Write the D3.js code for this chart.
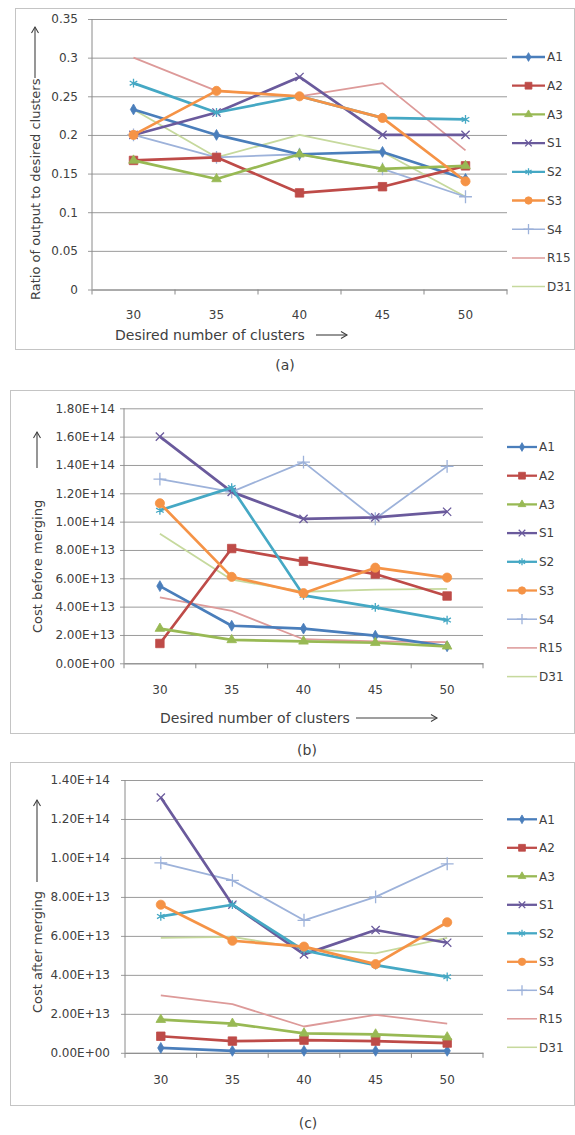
<!DOCTYPE html>
<html>
<head>
<meta charset="utf-8">
<script src="https://cdn.jsdelivr.net/npm/d3@7"></script>
<style>
  body { margin: 0; background: #fff; }
  text { font-family: "DejaVu Sans", sans-serif; fill: #404040; }
</style>
</head>
<body>
<svg width="575" height="1135"></svg>
<script>
// categories + series names
var clusters = [30, 35, 40, 45, 50];
var seriesNames = ["A1", "A2", "A3", "S1", "S2", "S3", "S4", "R15", "D31"];

// (a) ratio of output to desired clusters, one row per series
var ratioValues = [
  [0.233, 0.2, 0.175, 0.178, 0.143],
  [0.167, 0.171, 0.125, 0.133, 0.16],
  [0.167, 0.143, 0.175, 0.156, 0.16],
  [0.2, 0.229, 0.275, 0.2, 0.2],
  [0.267, 0.229, 0.25, 0.222, 0.22],
  [0.2, 0.257, 0.25, 0.222, 0.14],
  [0.2, 0.171, 0.175, 0.156, 0.12],
  [0.3, 0.257, 0.25, 0.267, 0.18],
  [0.233, 0.171, 0.2, 0.178, 0.12]
];

// (b) cost before merging
var costBefore = [
  [5.45e13, 2.65e13, 2.45e13, 1.95e13, 1.2e13],
  [1.4e13, 8.1e13, 7.2e13, 6.3e13, 4.75e13],
  [2.45e13, 1.65e13, 1.55e13, 1.45e13, 1.2e13],
  [1.6e14, 1.21e14, 1.02e14, 1.03e14, 1.07e14],
  [1.08e14, 1.24e14, 4.8e13, 3.95e13, 3.05e13],
  [1.13e14, 6.1e13, 4.95e13, 6.75e13, 6.05e13],
  [1.3e14, 1.21e14, 1.42e14, 1.02e14, 1.39e14],
  [4.65e13, 3.7e13, 1.7e13, 1.55e13, 1.5e13],
  [9.15e13, 5.9e13, 5.05e13, 5.2e13, 5.25e13]
];

// (c) cost after merging
var costAfter = [
  [0.25e13, 0.1e13, 0.1e13, 0.1e13, 0.1e13],
  [0.85e13, 0.6e13, 0.65e13, 0.6e13, 0.5e13],
  [1.7e13, 1.5e13, 1.0e13, 0.95e13, 0.8e13],
  [1.31e14, 7.6e13, 5.05e13, 6.3e13, 5.65e13],
  [7.0e13, 7.6e13, 5.25e13, 4.5e13, 3.9e13],
  [7.6e13, 5.75e13, 5.45e13, 4.55e13, 6.7e13],
  [9.75e13, 8.85e13, 6.8e13, 8.0e13, 9.7e13],
  [2.95e13, 2.5e13, 1.35e13, 1.95e13, 1.5e13],
  [5.9e13, 5.95e13, 5.35e13, 5.1e13, 5.9e13]
];

var ratioTicks = [0, 0.05, 0.1, 0.15, 0.2, 0.25, 0.3, 0.35];
var beforeTicks = [0, 2e13, 4e13, 6e13, 8e13, 1e14, 1.2e14, 1.4e14, 1.6e14, 1.8e14];
var afterTicks = [0, 2e13, 4e13, 6e13, 8e13, 1e14, 1.2e14, 1.4e14];

// styles
var colors = ["#4a7ebb", "#be4b48", "#98b954", "#6a5a9c", "#45a8c4", "#f59346", "#9db2da", "#dd9a99", "#c6d99d"];
var markers = ["diamond", "square", "triangle", "times", "asterisk", "circle", "plus", null, null];
var widths = [2.7, 2.7, 2.7, 2.7, 2.7, 2.7, 1.8, 1.8, 1.8];

var svg = d3.select("svg");

function symbolType(m) {
  if (m == "diamond") return d3.symbolDiamond;
  if (m == "square") return d3.symbolSquare;
  if (m == "triangle") return d3.symbolTriangle;
  if (m == "circle") return d3.symbolCircle;
  if (m == "times") return d3.symbolTimes || d3.symbolCross;
  if (m == "asterisk") return d3.symbolAsterisk || d3.symbolCross;
  return d3.symbolPlus || d3.symbolCross;
}
var strokeMarkers = ["times", "asterisk", "plus"];
var markerSize = { diamond: 34, square: 72, triangle: 40, circle: 66, times: 46, asterisk: 54, plus: 56 };

function drawMarker(sel, i, size) {
  var m = markers[i];
  if (!m) return;
  var stroked = strokeMarkers.indexOf(m) >= 0;
  sel.append("path")
    .attr("d", d3.symbol().type(symbolType(m)).size(size || markerSize[m]))
    .attr("fill", stroked ? "none" : colors[i])
    .attr("stroke", colors[i])
    .attr("stroke-width", stroked ? 1.3 : 0.8);
}

function sci(v) {
  if (v == 0) return "0.00E+00";
  var e = Math.floor(Math.log10(v) + 1e-9);
  return (v / Math.pow(10, e)).toFixed(2) + "E+" + String(e).padStart(2, "0");
}

function upArrow(g, x, y1, y2) {
  g.append("line").attr("x1", x).attr("x2", x).attr("y1", y1).attr("y2", y2)
    .attr("stroke", "#404040").attr("stroke-width", 1.1);
  g.append("path").attr("d", "M" + (x - 3.5) + "," + (y2 + 6) + "L" + x + "," + y2 + "L" + (x + 3.5) + "," + (y2 + 6))
    .attr("fill", "none").attr("stroke", "#404040").attr("stroke-width", 1.1);
}

function rightArrow(g, y, x1, x2) {
  g.append("line").attr("x1", x1).attr("x2", x2).attr("y1", y).attr("y2", y)
    .attr("stroke", "#404040").attr("stroke-width", 1.1);
  g.append("path").attr("d", "M" + (x2 - 6) + "," + (y - 3.5) + "L" + x2 + "," + y + "L" + (x2 - 6) + "," + (y + 3.5))
    .attr("fill", "none").attr("stroke", "#404040").attr("stroke-width", 1.1);
}

function drawPanel(c) {
  var g = svg.append("g");

  g.append("rect")
    .attr("x", c.box[0] + 0.5).attr("y", c.box[1] + 0.5)
    .attr("width", c.box[2] - c.box[0]).attr("height", c.box[3] - c.box[1])
    .attr("fill", "#fff").attr("stroke", "#c4c4c4");

  var x = d3.scaleBand().domain(clusters).range([c.left, c.right]);
  var y = d3.scaleLinear().domain([0, c.yMax]).range([c.bottom, c.top]);

  // y axis: gridlines + labels
  var yAxis = d3.axisLeft(y).tickValues(c.ticks).tickFormat(c.fmt)
    .tickSize(-(c.right - c.left + 4)).tickPadding(c.labelPad);
  var ya = g.append("g").attr("transform", "translate(" + (c.left - 4) + ",0)").call(yAxis);
  ya.select(".domain").remove();
  ya.selectAll("line").attr("stroke", "#9a9a9a");
  ya.selectAll("text").attr("font-size", 12).attr("fill", "#4a4a4a")
    .style("font-family", "DejaVu Sans, sans-serif");

  g.append("line").attr("x1", c.left).attr("x2", c.left).attr("y1", c.top).attr("y2", c.bottom)
    .attr("stroke", "#8a8a8a");

  // x axis: labels at centres, ticks on band edges
  var xAxis = d3.axisBottom(x).tickSize(0).tickPadding(c.xPad);
  var xa = g.append("g").attr("transform", "translate(0," + c.bottom + ")").call(xAxis);
  xa.select(".domain").attr("stroke", "#8a8a8a");
  xa.selectAll("text").attr("font-size", 12).attr("fill", "#4a4a4a")
    .style("font-family", "DejaVu Sans, sans-serif");
  g.selectAll(".xtick").data(clusters.concat(["end"])).enter().append("line")
    .attr("x1", function(d) { return d == "end" ? c.right : x(d); })
    .attr("x2", function(d) { return d == "end" ? c.right : x(d); })
    .attr("y1", c.bottom).attr("y2", c.bottom + 5)
    .attr("stroke", "#8a8a8a");

  // series lines
  var line = d3.line()
    .x(function(d, j) { return x(clusters[j]) + x.bandwidth() / 2; })
    .y(function(d) { return y(d); });

  var order = [7, 8, 6, 0, 1, 2, 3, 4, 5];
  order.forEach(function(i) {
    g.append("path").datum(c.values[i])
      .attr("d", line)
      .attr("fill", "none")
      .attr("stroke", colors[i])
      .attr("stroke-width", widths[i])
      .attr("stroke-linejoin", "round");
    if (markers[i]) {
      g.selectAll(".m" + i).data(c.values[i]).enter().append("g")
        .attr("transform", function(d, j) {
          return "translate(" + (x(clusters[j]) + x.bandwidth() / 2) + "," + y(d) + ")";
        })
        .each(function() { drawMarker(d3.select(this), i); });
    }
  });

  // legend
  var lg = g.selectAll(".legend").data(seriesNames).enter().append("g")
    .attr("transform", function(d, i) { return "translate(" + c.legX + "," + (c.legY + i * c.legStep) + ")"; });
  lg.append("line").attr("x1", 0).attr("x2", c.legW).attr("y1", 0).attr("y2", 0)
    .attr("stroke", function(d, i) { return colors[i]; })
    .attr("stroke-width", function(d, i) { return widths[i] * 0.85; });
  lg.each(function(d, i) {
    var m = d3.select(this).append("g").attr("transform", "translate(" + c.legW / 2 + ",0)");
    drawMarker(m, i, markers[i] ? markerSize[markers[i]] * 0.65 : 0);
  });
  lg.append("text").attr("x", c.legW + 2).attr("dy", "0.36em")
    .attr("font-size", 12).text(function(d) { return d; });

  // axis titles
  g.append("text")
    .attr("transform", "translate(" + (c.yTitleX + 4.5) + "," + c.yTitleStart + ") rotate(-90)")
    .attr("font-size", 13).text(c.yTitle);
  upArrow(g, c.yTitleX, c.yArrow[0], c.yArrow[1]);

  if (c.xTitle) {
    g.append("text").attr("x", c.xTitle.x).attr("y", c.xTitle.y).attr("dy", "0.36em")
      .attr("font-size", 14).text(c.xTitle.text);
    rightArrow(g, c.xTitle.y, c.xTitle.a1, c.xTitle.a2);
  }

  svg.append("text").attr("x", c.caption[1]).attr("y", c.caption[2]).attr("dy", "0.36em")
    .attr("text-anchor", "middle").attr("font-size", 14).text(c.caption[0]);
}

drawPanel({
  box: [15, 8, 574, 349], left: 92, right: 507, top: 19, bottom: 289.5,
  yMax: 0.35, ticks: ratioTicks, fmt: function(v) { return String(+v.toFixed(2)); },
  labelPad: 10, xPad: 21, values: ratioValues,
  legX: 512, legW: 33, legY: 57, legStep: 28.7,
  yTitle: "Ratio of output to desired clusters", yTitleX: 35, yTitleStart: 300, yArrow: [78, 27],
  xTitle: { text: "Desired number of clusters", x: 115, y: 335, a1: 316, a2: 347 },
  caption: ["(a)", 285, 365]
});

drawPanel({
  box: [10, 390, 574, 733], left: 124, right: 483, top: 408.3, bottom: 663.3,
  yMax: 1.8e14, ticks: beforeTicks, fmt: sci,
  labelPad: 5, xPad: 22, values: costBefore,
  legX: 507, legW: 30, legY: 447, legStep: 28.7,
  yTitle: "Cost before merging", yTitleX: 37, yTitleStart: 633, yArrow: [468, 432],
  xTitle: { text: "Desired number of clusters", x: 160, y: 718, a1: 356, a2: 437 },
  caption: ["(b)", 307, 750]
});

drawPanel({
  box: [10, 762, 574, 1105], left: 125, right: 483, top: 780, bottom: 1052.8,
  yMax: 1.4e14, ticks: afterTicks, fmt: sci,
  labelPad: 11, xPad: 23, values: costAfter,
  legX: 507, legW: 30, legY: 819.3, legStep: 28.5,
  yTitle: "Cost after merging", yTitleX: 37, yTitleStart: 1013, yArrow: [882, 800],
  xTitle: null,
  caption: ["(c)", 308, 1123]
});
</script>
</body>
</html>
